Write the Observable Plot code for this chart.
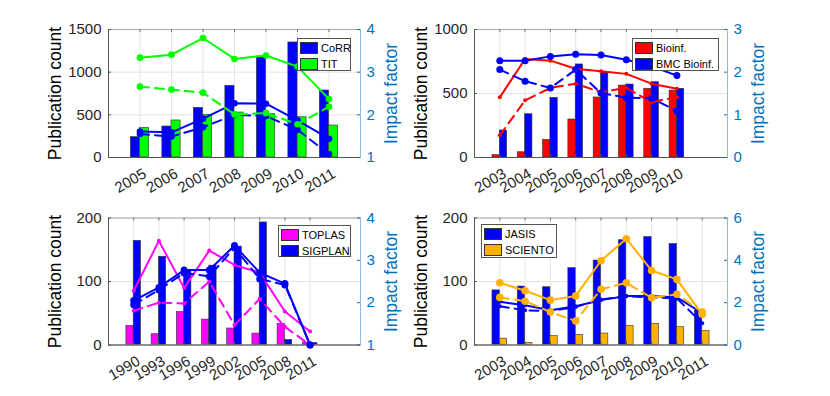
<!DOCTYPE html>
<html>
<head>
<meta charset="utf-8">
<script src="https://cdn.jsdelivr.net/npm/d3@7"></script>
<script src="https://cdn.jsdelivr.net/npm/@observablehq/plot@0.6"></script>
<style>
  html, body { margin: 0; padding: 0; background: #fff; }
  #fig { position: relative; width: 830px; height: 396px; overflow: hidden; background: #fff;
         font-family: "Liberation Sans", Arial, Helvetica, sans-serif; }
  #fig svg { position: absolute; left: 0; top: 0; }
  .legend { position: absolute; background: #fff; border: 1px solid #555; box-sizing: border-box;
            padding: 1px 3px 0 2px; font-size: 11px; color: #000; }
  .legend .row { display: flex; align-items: center; height: 16px; white-space: nowrap; }
  .legend .sw { width: 18px; height: 12.5px; box-sizing: border-box; border: 0.7px solid #333; margin-right: 3px; flex: none; }
</style>
</head>
<body>
<div id="fig"></div>
<script>
// ---------- Data ----------
// Panel 1: CoRR vs TIT
const years1 = [2005, 2006, 2007, 2008, 2009, 2010, 2011];
const corrCount = [238, 363, 582, 840, 1183, 1348, 785];
const titCount = [348, 434, 496, 527, 512, 472, 375];
const corrIF = [1.61, 1.59, 1.91, 2.27, 2.26, 1.87, 1.44];
const corrIF2 = [1.55, 1.49, 1.71, 2.00, 1.97, 1.65, 1.08];
const titIF = [3.34, 3.41, 3.80, 3.31, 3.39, 3.13, 2.37];
const titIF2 = [2.66, 2.59, 2.52, 2.01, 2.04, 1.78, 2.19];
const countTicks1 = [0, 500, 1000, 1500];
const ifTicks1 = [1, 2, 3, 4];

// Panel 2: Bioinf. vs BMC Bioinf.
const years2 = [2003, 2004, 2005, 2006, 2007, 2008, 2009, 2010];
const bioCount = [18, 41, 138, 297, 469, 562, 537, 523];
const bmcCount = [211, 338, 466, 727, 667, 570, 588, 537];
const bioIF = [1.41, 2.31, 2.27, 2.08, 2.02, 1.96, 1.73, 1.61];
const bioIF2 = [0.52, 1.34, 1.63, 1.73, 1.53, 1.63, 1.30, 1.41];
const bmcIF = [2.27, 2.27, 2.37, 2.42, 2.40, 2.29, 2.14, 1.92];
const bmcIF2 = [2.06, 1.79, 1.63, 2.06, 1.51, 1.40, 1.39, 1.09];
const countTicks2 = [0, 500, 1000];
const ifTicks2 = [0, 1, 2, 3];

// Panel 3: TOPLAS vs SIGPLAN
const years3 = [1990, 1993, 1996, 1999, 2002, 2005, 2008, 2011];
const toplasCount = [30, 17, 52, 40, 26, 18, 33, 4];
const sigplanCount = [164, 139, 117, 125, 155, 193, 8, 3];
const toplasIF = [2.28, 3.46, 2.35, 3.23, 2.89, 2.71, 1.79, 1.32];
const toplasIF2 = [1.81, 2.00, 1.98, 2.50, 1.47, 2.09, 1.43, 1.00];
const sigplanIF = [2.05, 2.36, 2.77, 2.77, 3.35, 2.71, 2.45, 1.00];
const sigplanIF2 = [1.95, 2.30, 2.70, 2.62, 3.30, 2.56, 2.42, 1.00];
const countTicks3 = [0, 100, 200];
const ifTicks3 = [1, 2, 3, 4];

// Panel 4: JASIS vs SCIENTO
const years4 = [2003, 2004, 2005, 2006, 2007, 2008, 2009, 2010, 2011];
const jasisCount = [86, 92, 91, 121, 133, 165, 170, 159, 54];
const scientoCount = [10, 3, 14, 16, 18, 30, 33, 28, 22];
const jasisIF = [2.04, 1.88, 1.64, 1.83, 2.12, 2.31, 2.31, 2.25, 1.51];
const jasisIF2 = [1.83, 1.64, 1.60, 1.80, 2.15, 2.30, 2.25, 2.20, 1.03];
const scientoIF = [2.94, 2.56, 2.12, 2.32, 3.98, 5.02, 3.52, 3.10, 1.45];
const scientoIF2 = [2.25, 2.07, 1.56, 1.13, 2.63, 2.94, 2.23, 2.40, 1.56];
const countTicks4 = [0, 100, 200];
const ifTicks4 = [0, 2, 4, 6];

// ---------- Drawing ----------
const W = 830, H = 396;
const FONT = '"Liberation Sans", Arial, Helvetica, sans-serif';
const IFBLUE = "#0072BD";
const fig = document.getElementById("fig");
const rows = (xs, vs) => xs.map((x, i) => ({x, v: vs[i]}));
const fmt = d => String(d);

function panel(cfg) {
  const [L, R, T, B] = cfg.box;
  const pw = R - L, ph = B - T;
  const bw = cfg.step * 0.29;
  const base = {
    width: W, height: H,
    marginLeft: L, marginRight: W - R, marginTop: T, marginBottom: H - B,
    style: {fontFamily: FONT, fontSize: "15px", background: "transparent", overflow: "visible", color: "#262626"}
  };
  const [a, b] = cfg.series;
  const p1 = Plot.plot({
    ...base,
    x: {type: "linear", domain: cfg.xDomain},
    y: {type: "linear", domain: cfg.yDomain},
    marks: [
      Plot.gridX(cfg.xTicks, {stroke: "#e4e4e4", strokeOpacity: 1}),
      Plot.gridY(cfg.yTicks, {stroke: "#e4e4e4", strokeOpacity: 1}),
      Plot.rect(rows(cfg.x, a.count), {x1: d => d.x - bw, x2: d => d.x, y1: 0, y2: "v", fill: a.color, stroke: "#333", strokeWidth: 0.6}),
      Plot.rect(rows(cfg.x, b.count), {x1: d => d.x, x2: d => d.x + bw, y1: 0, y2: "v", fill: b.color, stroke: "#333", strokeWidth: 0.6}),
      Plot.frame({stroke: "#a8a8a8"}),
      Plot.ruleY([cfg.yDomain[0]], {stroke: "#555"}),
      Plot.ruleX([cfg.xDomain[0]], {stroke: "#555"}),
      Plot.tickX(cfg.xTicks, {insetTop: ph - 3, stroke: "#555"}),
      Plot.tickX(cfg.xTicks, {insetBottom: ph - 3, stroke: "#777"}),
      Plot.tickY(cfg.yTicks, {insetRight: pw - 3, stroke: "#555"}),
      Plot.axisX(cfg.xTicks, {tickSize: 0, tickPadding: 15, tickRotate: -30, dx: 5, tickFormat: fmt, fill: "#262626", fontSize: 15, label: null}),
      Plot.axisY(cfg.yTicks, {anchor: "left", tickSize: 0, tickPadding: 7, tickFormat: fmt, fill: "#262626", fontSize: 15, label: null}),
      Plot.axisY([], {anchor: "left", tickSize: 0, label: "Publication count", labelAnchor: "center", labelArrow: "none", labelOffset: 60, fontSize: 17.5, fill: "#000"})
    ]
  });
  const lineMarks = [];
  for (const s of cfg.series) {
    const solid = rows(cfg.x, s.ifv), dashed = rows(cfg.x, s.ifv2);
    lineMarks.push(
      Plot.line(dashed, {x: "x", y: "v", stroke: s.color, strokeWidth: 2, strokeDasharray: "9,6"}),
      Plot.dot(dashed, {x: "x", y: "v", r: s.r, fill: s.color}),
      Plot.line(solid, {x: "x", y: "v", stroke: s.color, strokeWidth: 2}),
      Plot.dot(solid, {x: "x", y: "v", r: s.r, fill: s.color})
    );
  }
  const p2 = Plot.plot({
    ...base,
    x: {type: "linear", domain: cfg.xDomain, axis: null},
    y: {type: "linear", domain: cfg.y2Domain},
    marks: [
      Plot.ruleX([cfg.xDomain[1]], {stroke: "#8dbbe2"}),
      Plot.tickY(cfg.y2Ticks, {insetLeft: pw - 3, stroke: IFBLUE}),
      ...lineMarks,
      Plot.axisY(cfg.y2Ticks, {anchor: "right", tickSize: 0, tickPadding: 6, tickFormat: fmt, fill: IFBLUE, fontSize: 15, label: null}),
      Plot.axisY([], {anchor: "right", tickSize: 0, label: "Impact factor", labelAnchor: "center", labelArrow: "none", labelOffset: 36, fontSize: 17.5, fill: IFBLUE})
    ]
  });
  fig.appendChild(p1);
  fig.appendChild(p2);
  const lg = document.createElement("div");
  lg.className = "legend";
  Object.assign(lg.style, cfg.legend);
  for (const s of cfg.series) {
    const row = document.createElement("div");
    row.className = "row";
    const sw = document.createElement("span");
    sw.className = "sw";
    sw.style.background = s.color;
    const t = document.createElement("span");
    t.textContent = s.name;
    row.appendChild(sw); row.appendChild(t);
    lg.appendChild(row);
  }
  fig.appendChild(lg);
}

panel({
  box: [108, 360, 29, 157], x: years1, xTicks: years1, xDomain: [2004, 2012], step: 1,
  yDomain: [0, 1500], yTicks: countTicks1, y2Domain: [1, 4], y2Ticks: ifTicks1,
  series: [
    {name: "CoRR", color: "#0000FF", count: corrCount, ifv: corrIF, ifv2: corrIF2, r: 3.3},
    {name: "TIT", color: "#00FF00", count: titCount, ifv: titIF, ifv2: titIF2, r: 3.3}
  ],
  legend: {left: "297px", top: "38px", width: "54px", height: "33px"}
});
panel({
  box: [474, 727, 29, 157], x: years2, xTicks: years2, xDomain: [2002, 2012], step: 1,
  yDomain: [0, 1000], yTicks: countTicks2, y2Domain: [0, 3], y2Ticks: ifTicks2,
  series: [
    {name: "Bioinf.", color: "#FF0000", count: bioCount, ifv: bioIF, ifv2: bioIF2, r: 2},
    {name: "BMC Bioinf.", color: "#0000FF", count: bmcCount, ifv: bmcIF, ifv2: bmcIF2, r: 3.5}
  ],
  legend: {left: "632px", top: "38px", width: "87px", height: "33px"}
});
panel({
  box: [108, 360, 217.5, 344.5], x: years3, xTicks: years3, xDomain: [1987, 2017], step: 3,
  yDomain: [0, 200], yTicks: countTicks3, y2Domain: [1, 4], y2Ticks: ifTicks3,
  series: [
    {name: "TOPLAS", color: "#FF00FF", count: toplasCount, ifv: toplasIF, ifv2: toplasIF2, r: 2},
    {name: "SIGPLAN", color: "#0000FF", count: sigplanCount, ifv: sigplanIF, ifv2: sigplanIF2, r: 3.5}
  ],
  legend: {left: "278px", top: "225px", width: "73px", height: "32px"}
});
panel({
  box: [474, 727, 217.5, 344.5], x: years4, xTicks: years4, xDomain: [2002, 2012], step: 1,
  yDomain: [0, 200], yTicks: countTicks4, y2Domain: [0, 6], y2Ticks: ifTicks4,
  series: [
    {name: "JASIS", color: "#0000FF", count: jasisCount, ifv: jasisIF, ifv2: jasisIF2, r: 2},
    {name: "SCIENTO", color: "#FFB000", count: scientoCount, ifv: scientoIF, ifv2: scientoIF2, r: 3.8}
  ],
  legend: {left: "481px", top: "224px", width: "76px", height: "34px"}
});
</script>
</body>
</html>
